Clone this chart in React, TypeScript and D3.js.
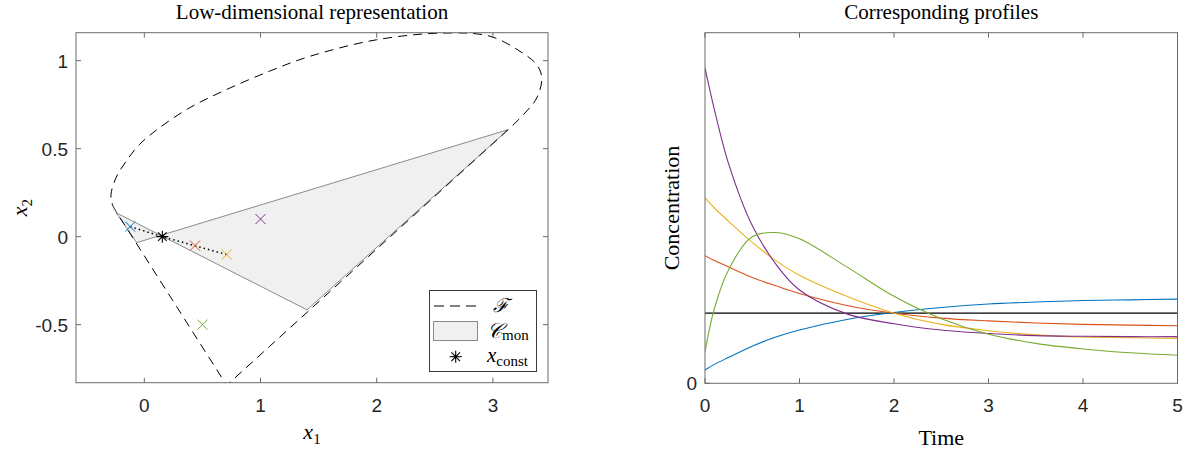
import React from "react";
import * as d3 from "d3";

// ---- left panel data ----
// curved upper part of the boundary F (from the left junction round to the right corner)
const fLoopX = [-0.244, -0.276, -0.287, -0.244, -0.157, -0.043, 0.129, 0.387, 0.675, 1.076, 1.426, 2.0, 2.573, 2.975, 3.233, 3.377, 3.42, 3.377, 3.262, 3.131];
const fLoopY = [0.144, 0.185, 0.239, 0.334, 0.428, 0.523, 0.618, 0.731, 0.826, 0.94, 1.025, 1.119, 1.157, 1.139, 1.053, 0.977, 0.902, 0.788, 0.693, 0.608];
// straight lower edges of F
const fWedgeX = [3.131, 0.709, -0.244];
const fWedgeY = [0.608, -0.845, 0.144];
// monotone region C_mon (bow-tie through x_const)
const cMonX = [-0.243, -0.065, 3.131, 1.4];
const cMonY = [0.136, -0.034, 0.608, -0.416];
const xConst = { x: 0.155, y: 0.0 };
const sampleNames = ["blue", "red", "yellow", "purple", "green"];
const sampleX = [-0.122, 0.436, 0.709, 1.0, 0.5];
const sampleY = [0.057, -0.051, -0.102, 0.1, -0.5];
const leftXTicks = [0, 1, 2, 3];
const leftYTicks = [-0.5, 0, 0.5, 1];

// ---- right panel data ----
const times = [0, 0.1, 0.25, 0.5, 0.75, 1, 1.5, 2, 2.5, 3, 3.5, 4, 4.5, 5];
const blueProfile = [0.19, 0.27, 0.37, 0.53, 0.66, 0.76, 0.91, 1.01, 1.08, 1.13, 1.16, 1.18, 1.19, 1.2];
const redProfile = [1.82, 1.75, 1.66, 1.51, 1.39, 1.28, 1.11, 1.0, 0.93, 0.89, 0.86, 0.84, 0.83, 0.82];
const yellowProfile = [2.645, 2.5, 2.31, 2.01, 1.75, 1.54, 1.24, 1.0, 0.84, 0.75, 0.69, 0.66, 0.65, 0.64];
const purpleProfile = [4.5, 3.9, 3.13, 2.25, 1.7, 1.33, 0.99, 0.85, 0.76, 0.71, 0.68, 0.67, 0.665, 0.665];
const greenProfile = [0.45, 1.07, 1.62, 2.09, 2.15, 2.06, 1.66, 1.24, 0.92, 0.7, 0.57, 0.49, 0.435, 0.4];
const constTimes = [0, 5];
const constProfile = [1, 1];
const rightXTicks = [0, 1, 2, 3, 4, 5];
const rightYTicks = [0];

const colors: Record<string, string> = {
  blue: "#0072BD",
  red: "#D95319",
  yellow: "#EDB120",
  purple: "#7E2F8E",
  green: "#77AC30",
};
const profiles: [string, number[]][] = [
  ["blue", blueProfile],
  ["red", redProfile],
  ["yellow", yellowProfile],
  ["purple", purpleProfile],
  ["green", greenProfile],
];

const axisColor = "#6a6a6a";
const textColor = "#262626";
const sans = "'Liberation Sans', Arial, sans-serif";
const serif = "'Liberation Serif', 'Times New Roman', serif";

const L = { left: 76, right: 548, top: 32.7, bottom: 382.7 };
const R = { left: 705, right: 1177.5, top: 32.7, bottom: 383.3 };

const Star = ({ cx, cy, r = 6 }: { cx: number; cy: number; r?: number }) => {
  const d = r * 0.72;
  return (
    <g stroke="#000" strokeWidth={1.1}>
      <line x1={cx - r} y1={cy} x2={cx + r} y2={cy} />
      <line x1={cx} y1={cy - r} x2={cx} y2={cy + r} />
      <line x1={cx - d} y1={cy - d} x2={cx + d} y2={cy + d} />
      <line x1={cx - d} y1={cy + d} x2={cx + d} y2={cy - d} />
    </g>
  );
};

const Cross = ({ cx, cy, color }: { cx: number; cy: number; color: string }) => {
  const r = 5;
  return (
    <g stroke={color} strokeWidth={1}>
      <line x1={cx - r} y1={cy - r} x2={cx + r} y2={cy + r} />
      <line x1={cx - r} y1={cy + r} x2={cx + r} y2={cy - r} />
    </g>
  );
};

const App = () => {
  // left scales
  const lx = d3.scaleLinear().domain([-0.588, 3.474]).range([L.left, L.right]);
  const ly = d3.scaleLinear().domain([-0.83, 1.159]).range([L.bottom, L.top]);
  // right scales
  const rx = d3.scaleLinear().domain([0, 5]).range([R.left, R.right]);
  const ry = d3.scaleLinear().domain([0, 5]).range([R.bottom, R.top]);

  const loopPts = fLoopX.map((x, i) => [lx(x), ly(fLoopY[i])] as [number, number]);
  const wedgePts = fWedgeX.map((x, i) => [lx(x), ly(fWedgeY[i])] as [number, number]);
  const loopPath = d3.line().curve(d3.curveCatmullRom.alpha(0.5))(loopPts) || "";
  const wedgePath = d3.line()(wedgePts) || "";
  const cMonPath =
    (d3.line()(cMonX.map((x, i) => [lx(x), ly(cMonY[i])] as [number, number])) || "") + "Z";

  const sx = sampleX.map((x) => lx(x));
  const sy = sampleY.map((y) => ly(y));
  const starX = lx(xConst.x);
  const starY = ly(xConst.y);
  // dotted path: blue sample -> x_const -> yellow sample (red lies on it)
  const dottedPath = `M${sx[0]},${sy[0]}L${starX},${starY}L${sx[2]},${sy[2]}`;

  const profLine = d3
    .line<number>()
    .x((_, i) => rx(times[i]))
    .y((d) => ry(d))
    .curve(d3.curveCatmullRom.alpha(0.5));

  const tick = 5;

  return (
    <svg
      width={1190}
      height={453}
      style={{ position: "absolute", left: 0, top: 0, background: "#fff" }}
    >
      <defs>
        <clipPath id="clipL">
          <rect x={L.left} y={L.top} width={L.right - L.left} height={L.bottom - L.top} />
        </clipPath>
        <clipPath id="clipR">
          <rect x={R.left} y={R.top} width={R.right - R.left} height={R.bottom - R.top} />
        </clipPath>
      </defs>
      <rect x={0} y={0} width={1190} height={453} fill="#fff" />

      {/* ---------------- left panel ---------------- */}
      <g clipPath="url(#clipL)">
        <path d={cMonPath} fill="#f0f0f0" stroke="#8a8a8a" strokeWidth={1} />
        <path d={loopPath} fill="none" stroke="#000" strokeWidth={1} strokeDasharray="9,6" />
        <path d={wedgePath} fill="none" stroke="#000" strokeWidth={1} strokeDasharray="9,6" />
        <path d={dottedPath} fill="none" stroke="#000" strokeWidth={1.5} strokeDasharray="1.5,3" />
        {sampleNames.map((n, i) => (
          <Cross key={n} cx={sx[i]} cy={sy[i]} color={colors[n]} />
        ))}
        <Star cx={starX} cy={starY} />
        <circle cx={starX} cy={starY} r={1.6} fill="#000" />
      </g>
      <rect
        x={L.left}
        y={L.top}
        width={L.right - L.left}
        height={L.bottom - L.top}
        fill="none"
        stroke={axisColor}
        strokeWidth={1}
      />
      {leftXTicks.map((t) => (
        <g key={"lx" + t}>
          <line x1={lx(t)} x2={lx(t)} y1={L.bottom} y2={L.bottom - tick} stroke={axisColor} />
          <line x1={lx(t)} x2={lx(t)} y1={L.top} y2={L.top + tick} stroke={axisColor} />
          <text x={lx(t)} y={L.bottom + 29} textAnchor="middle" fontFamily={sans} fontSize={19} fill={textColor}>
            {t}
          </text>
        </g>
      ))}
      {leftYTicks.map((t) => (
        <g key={"ly" + t}>
          <line x1={L.left} x2={L.left + tick} y1={ly(t)} y2={ly(t)} stroke={axisColor} />
          <line x1={L.right} x2={L.right - tick} y1={ly(t)} y2={ly(t)} stroke={axisColor} />
          <text x={L.left - 8} y={ly(t) + 7} textAnchor="end" fontFamily={sans} fontSize={19} fill={textColor}>
            {t}
          </text>
        </g>
      ))}
      <text x={(L.left + L.right) / 2} y={18.5} textAnchor="middle" fontFamily={serif} fontSize={21} fill="#000">
        Low-dimensional representation
      </text>
      <text x={(L.left + L.right) / 2} y={438.5} textAnchor="middle" fontFamily={serif} fontSize={22} fill="#000">
        <tspan fontStyle="italic">x</tspan>
        <tspan fontSize={15} dy={5}>1</tspan>
      </text>
      <text
        transform={`translate(27, ${(L.top + L.bottom) / 2}) rotate(-90)`}
        textAnchor="middle"
        fontFamily={serif}
        fontSize={22}
        fill="#000"
      >
        <tspan fontStyle="italic">x</tspan>
        <tspan fontSize={15} dy={5}>2</tspan>
      </text>

      {/* legend */}
      <g>
        <rect x={429.5} y={290.5} width={107} height={81} fill="#fff" stroke="#3a3a3a" strokeWidth={1} />
        <line x1={434} x2={478} y1={306} y2={306} stroke="#000" strokeWidth={1} strokeDasharray="10,6" />
        <text x={501} y={312} textAnchor="middle" fontFamily="'DejaVu Serif', serif" fontStyle="italic" fontSize={19} fill="#000">
          ℱ
        </text>
        <rect x={433.5} y={321.5} width={44} height={19} fill="#f0f0f0" stroke="#8a8a8a" strokeWidth={1} />
        <text x={487} y={338} fontFamily={serif} fontSize={21} fill="#000">
          <tspan fontFamily="'DejaVu Serif', serif" fontStyle="italic">𝒞</tspan>
          <tspan fontSize={15} dy={2}>mon</tspan>
        </text>
        <Star cx={455.7} cy={356.7} />
        <circle cx={455.7} cy={356.7} r={1.6} fill="#000" />
        <text x={487} y={362} fontFamily={serif} fontSize={21} fill="#000">
          <tspan fontStyle="italic">x</tspan>
          <tspan fontSize={15} dy={4}>const</tspan>
        </text>
      </g>

      {/* ---------------- right panel ---------------- */}
      <g clipPath="url(#clipR)">
        <path
          d={d3.line<number>().x((_, i) => rx(constTimes[i])).y((d) => ry(d))(constProfile) || ""}
          fill="none"
          stroke="#000"
          strokeWidth={1.2}
        />
        {profiles.map(([n, vals]) => (
          <path key={n} d={profLine(vals) || ""} fill="none" stroke={colors[n]} strokeWidth={1.1} />
        ))}
      </g>
      <rect
        x={R.left}
        y={R.top}
        width={R.right - R.left}
        height={R.bottom - R.top}
        fill="none"
        stroke={axisColor}
        strokeWidth={1}
      />
      {rightXTicks.map((t) => (
        <g key={"rx" + t}>
          <line x1={rx(t)} x2={rx(t)} y1={R.bottom} y2={R.bottom - tick} stroke={axisColor} />
          <line x1={rx(t)} x2={rx(t)} y1={R.top} y2={R.top + tick} stroke={axisColor} />
          <text x={rx(t)} y={R.bottom + 29} textAnchor="middle" fontFamily={sans} fontSize={19} fill={textColor}>
            {t}
          </text>
        </g>
      ))}
      {rightYTicks.map((t) => (
        <g key={"ry" + t}>
          <line x1={R.left} x2={R.left + tick} y1={ry(t)} y2={ry(t)} stroke={axisColor} />
          <text x={R.left - 8} y={ry(t) + 7} textAnchor="end" fontFamily={sans} fontSize={19} fill={textColor}>
            {t}
          </text>
        </g>
      ))}
      <text x={(R.left + R.right) / 2} y={18.5} textAnchor="middle" fontFamily={serif} fontSize={21} fill="#000">
        Corresponding profiles
      </text>
      <text x={(R.left + R.right) / 2} y={444.5} textAnchor="middle" fontFamily={serif} fontSize={22} fill="#000">
        Time
      </text>
      <text
        transform={`translate(679, ${(R.top + R.bottom) / 2}) rotate(-90)`}
        textAnchor="middle"
        fontFamily={serif}
        fontSize={22}
        fill="#000"
      >
        Concentration
      </text>
    </svg>
  );
};

export default App;
